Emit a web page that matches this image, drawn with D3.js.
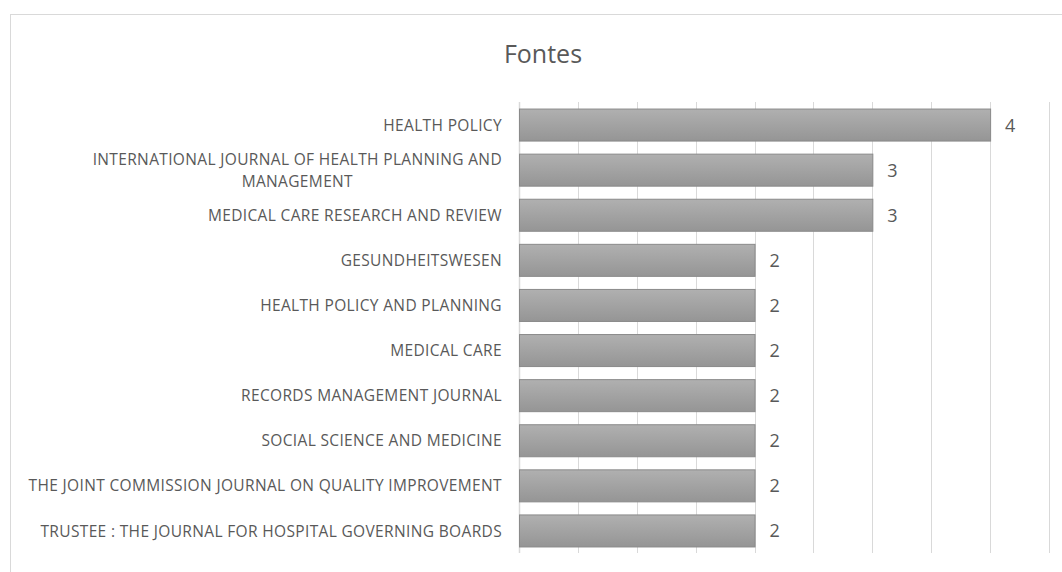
<!DOCTYPE html>
<html lang="en">
<head>
<meta charset="UTF-8">
<title>Fontes</title>
<style>
    body { margin: 0; background: #fff; }
    svg text { font-family: "Open Sans", sans-serif; fill: #595959; }
</style>
</head>
<body>
<svg id="chart"></svg>
<script src="https://cdnjs.cloudflare.com/ajax/libs/d3/7.9.0/d3.min.js"></script>
<script>
    // data
    const sources = [
        "HEALTH POLICY",
        "INTERNATIONAL JOURNAL OF HEALTH PLANNING AND MANAGEMENT",
        "MEDICAL CARE RESEARCH AND REVIEW",
        "GESUNDHEITSWESEN",
        "HEALTH POLICY AND PLANNING",
        "MEDICAL CARE",
        "RECORDS MANAGEMENT JOURNAL",
        "SOCIAL SCIENCE AND MEDICINE",
        "THE JOINT COMMISSION JOURNAL ON QUALITY IMPROVEMENT",
        "TRUSTEE : THE JOURNAL FOR HOSPITAL GOVERNING BOARDS"
    ];
    const counts = [4, 3, 3, 2, 2, 2, 2, 2, 2, 2];
    // the long second label wraps in the original
    const labelLines = {
        "INTERNATIONAL JOURNAL OF HEALTH PLANNING AND MANAGEMENT":
            ["INTERNATIONAL JOURNAL OF HEALTH PLANNING AND", "MANAGEMENT"]
    };
    const gridTicks = [0, 0.5, 1, 1.5, 2, 2.5, 3, 3.5, 4, 4.5];

    const w = 1062, h = 572;
    const svg = d3.select("#chart").attr("width", w).attr("height", h);

    // chart frame (runs off the right and bottom edges)
    svg.append("rect")
        .attr("x", 10.5).attr("y", 14.5)
        .attr("width", 1100).attr("height", 600)
        .attr("fill", "none").attr("stroke", "#d9d9d9");

    svg.append("text")
        .attr("x", 543).attr("y", 63)
        .attr("text-anchor", "middle")
        .style("font-size", "25px")
        .text("Fontes");

    const x = d3.scaleLinear().domain([0, 4.5]).range([519, 1049]);
    const y = d3.scaleBand().domain(sources).range([102.5, 553.5]).paddingInner(0.29).paddingOuter(0.145);

    const defs = svg.append("defs");
    const grad = defs.append("linearGradient")
        .attr("id", "barGrad").attr("x1", 0).attr("y1", 0).attr("x2", 0).attr("y2", 1);
    grad.append("stop").attr("offset", "0%").attr("stop-color", "#b0b0b0");
    grad.append("stop").attr("offset", "100%").attr("stop-color", "#959595");

    // vertical gridlines
    svg.append("g")
        .selectAll("line")
        .data(gridTicks)
        .enter()
        .append("line")
        .attr("x1", d => Math.round(x(d)) + 0.5)
        .attr("x2", d => Math.round(x(d)) + 0.5)
        .attr("y1", 102)
        .attr("y2", 553)
        .attr("stroke", "#d9d9d9")
        .attr("stroke-width", d => d === 0 ? 1.5 : 1);

    // bars
    svg.append("g")
        .selectAll("rect")
        .data(sources)
        .enter()
        .append("rect")
        .attr("x", x(0) + 0.5)
        .attr("y", d => y(d))
        .attr("width", (d, i) => x(counts[i]) - x(0))
        .attr("height", y.bandwidth())
        .attr("fill", "url(#barGrad)")
        .attr("stroke", "#8a8a8a")
        .attr("stroke-width", 1);

    // value labels
    svg.append("g")
        .selectAll("text")
        .data(sources)
        .enter()
        .append("text")
        .attr("x", (d, i) => x(counts[i]) + 15)
        .attr("y", d => y(d) + y.bandwidth() / 2)
        .attr("dy", "0.36em")
        .style("font-size", "18px")
        .text((d, i) => counts[i]);

    // category labels
    const labels = svg.append("g")
        .selectAll("text")
        .data(sources)
        .enter()
        .append("text")
        .attr("y", d => y(d) + y.bandwidth() / 2)
        .style("font-size", "15.5px")
        .style("letter-spacing", "0.35px");

    labels.each(function (d) {
        const lines = labelLines[d] || [d];
        const t = d3.select(this);
        const yc = y(d) + y.bandwidth() / 2;
        if (lines.length === 1) {
            t.attr("x", 502).attr("text-anchor", "end").attr("dy", "0.36em").text(d);
        } else {
            t.attr("text-anchor", "middle");
            const first = t.append("tspan").attr("x", 0).attr("y", yc - 11).attr("dy", "0.36em").text(lines[0]);
            const len = first.node().getComputedTextLength();
            const cx = 502 - len / 2;
            first.attr("x", cx);
            t.append("tspan").attr("x", cx).attr("y", yc + 11).attr("dy", "0.36em").text(lines[1]);
        }
    });
</script>
</body>
</html>
